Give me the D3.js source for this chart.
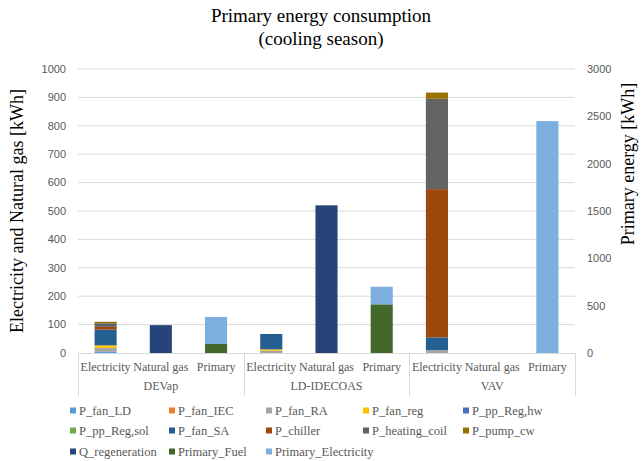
<!DOCTYPE html>
<html>
<head>
<meta charset="utf-8">
<script src="https://cdn.jsdelivr.net/npm/d3@7"></script>
<style>
  body { margin: 0; background: #fff; }
  svg { display: block; }
</style>
</head>
<body>
<svg id="chart" width="643" height="461"></svg>
<script>
// Systems and energy carriers on the two-level category axis
const systems = ["DEVap", "LD-IDECOAS", "VAV"];
const carriers = ["Electricity", "Natural gas", "Primary"];

// Axis ticks
const leftTicks = [0, 100, 200, 300, 400, 500, 600, 700, 800, 900, 1000];
const rightTicks = [0, 500, 1000, 1500, 2000, 2500, 3000];

// Electricity components per system [kWh] (DEVap, LD-IDECOAS, VAV)
const P_fan_LD       = [4, 0, 0];
const P_fan_IEC      = [0, 0, 0];
const P_fan_RA       = [14, 8, 10];
const P_fan_reg      = [9, 5, 0];
const P_pp_Reg_hw    = [0, 0, 0];
const P_pp_Reg_sol   = [0, 0, 0];
const P_fan_SA       = [55, 54, 45];
const P_chiller      = [10, 0, 522];
const P_heating_coil = [13, 0, 318];
const P_pump_cw      = [5, 0, 22];
// Natural gas [kWh]
const Q_regeneration = [98, 520, 0];
// Primary energy [kWh] (right axis)
const Primary_Fuel        = [95, 514, 0];
const Primary_Electricity = [285, 186, 2450];

const series = [
  { name: "P_fan_LD",        values: P_fan_LD,        color: "#5B9BD5", carrier: "Electricity" },
  { name: "P_fan_IEC",       values: P_fan_IEC,       color: "#ED7D31", carrier: "Electricity" },
  { name: "P_fan_RA",        values: P_fan_RA,        color: "#A5A5A5", carrier: "Electricity" },
  { name: "P_fan_reg",       values: P_fan_reg,       color: "#FFC000", carrier: "Electricity" },
  { name: "P_pp_Reg,hw",     values: P_pp_Reg_hw,     color: "#4472C4", carrier: "Electricity" },
  { name: "P_pp_Reg,sol",    values: P_pp_Reg_sol,    color: "#70AD47", carrier: "Electricity" },
  { name: "P_fan_SA",        values: P_fan_SA,        color: "#255E91", carrier: "Electricity" },
  { name: "P_chiller",       values: P_chiller,       color: "#9E480E", carrier: "Electricity" },
  { name: "P_heating_coil",  values: P_heating_coil,  color: "#636363", carrier: "Electricity" },
  { name: "P_pump_cw",       values: P_pump_cw,       color: "#997300", carrier: "Electricity" },
  { name: "Q_regeneration",  values: Q_regeneration,  color: "#264478", carrier: "Natural gas" },
  { name: "Primary_Fuel",    values: Primary_Fuel,    color: "#43682B", carrier: "Primary" },
  { name: "Primary_Electricity", values: Primary_Electricity, color: "#7CAFDD", carrier: "Primary" }
];

const svg = d3.select("#chart");
const plot = { left: 78, right: 575, top: 69, bottom: 353 };
const textGray = "#595959";
const gridGray = "#d9d9d9";

const keys = [];
systems.forEach(s => carriers.forEach(c => keys.push(s + "|" + c)));

const x = d3.scaleBand().domain(keys).range([plot.left, plot.right])
  .paddingInner(0.6).paddingOuter(0.3);
const yL = d3.scaleLinear().domain([0, 1000]).range([plot.bottom, plot.top]);
const yR = d3.scaleLinear().domain([0, 3000]).range([plot.bottom, plot.top]);

// Gridlines
svg.append("g").selectAll("line").data(leftTicks.filter(d => d > 0)).join("line")
  .attr("x1", plot.left).attr("x2", plot.right)
  .attr("y1", d => yL(d)).attr("y2", d => yL(d))
  .attr("stroke", gridGray).attr("stroke-width", 1);

// Stacked bars
const barsG = svg.append("g");
systems.forEach((sys, si) => {
  carriers.forEach(car => {
    const scale = car === "Primary" ? yR : yL;
    let acc = 0;
    series.filter(s => s.carrier === car).forEach(s => {
      const v = s.values[si];
      if (v > 0) {
        barsG.append("rect")
          .attr("x", x(sys + "|" + car))
          .attr("width", x.bandwidth())
          .attr("y", scale(acc + v))
          .attr("height", scale(acc) - scale(acc + v))
          .attr("fill", s.color);
      }
      acc += v;
    });
  });
});

// Category axis baseline and group separators
svg.append("line")
  .attr("x1", plot.left).attr("x2", plot.right)
  .attr("y1", plot.bottom + 0.5).attr("y2", plot.bottom + 0.5)
  .attr("stroke", gridGray);
const groupEdges = [0, 3, 6, 9].map(i => plot.left + (plot.right - plot.left) * i / 9);
svg.append("g").selectAll("line").data(groupEdges).join("line")
  .attr("x1", d => Math.round(d) + 0.5).attr("x2", d => Math.round(d) + 0.5)
  .attr("y1", plot.bottom).attr("y2", 396)
  .attr("stroke", gridGray);

const serif = "'Liberation Serif', 'Times New Roman', serif";
const sans = "'Liberation Sans', Arial, sans-serif";

// Carrier labels
svg.append("g").selectAll("text").data(keys).join("text")
  .attr("x", d => x(d) + x.bandwidth() / 2)
  .attr("y", 371)
  .attr("text-anchor", "middle")
  .attr("font-family", serif).attr("font-size", 12).attr("fill", textGray)
  .text(d => d.split("|")[1]);

// System labels
svg.append("g").selectAll("text").data(systems).join("text")
  .attr("x", (d, i) => (groupEdges[i] + groupEdges[i + 1]) / 2)
  .attr("y", 390)
  .attr("text-anchor", "middle")
  .attr("font-family", serif).attr("font-size", 12).attr("fill", textGray)
  .text(d => d);

// Left axis tick labels
svg.append("g").selectAll("text").data(leftTicks).join("text")
  .attr("x", 66).attr("y", d => yL(d)).attr("dy", "0.35em")
  .attr("text-anchor", "end")
  .attr("font-family", sans).attr("font-size", 11).attr("fill", textGray)
  .text(d => d);

// Right axis tick labels
svg.append("g").selectAll("text").data(rightTicks).join("text")
  .attr("x", 587).attr("y", d => yR(d)).attr("dy", "0.35em")
  .attr("text-anchor", "start")
  .attr("font-family", sans).attr("font-size", 11).attr("fill", textGray)
  .text(d => d);

// Title
const title = svg.append("text")
  .attr("x", 321).attr("text-anchor", "middle")
  .attr("font-family", serif).attr("font-size", 19).attr("fill", "#000");
title.append("tspan").attr("x", 321).attr("y", 22).text("Primary energy consumption");
title.append("tspan").attr("x", 321).attr("y", 45).text("(cooling season)");

// Axis titles
svg.append("text")
  .attr("transform", `translate(23, ${(plot.top + plot.bottom) / 2}) rotate(-90)`)
  .attr("text-anchor", "middle")
  .attr("font-family", serif).attr("font-size", 18).attr("fill", "#000")
  .text("Electricity and Natural gas [kWh]");
svg.append("text")
  .attr("transform", "translate(634, 164) rotate(-90)")
  .attr("text-anchor", "middle")
  .attr("font-family", serif).attr("font-size", 18).attr("fill", "#000")
  .text("Primary energy [kWh]");

// Legend
const legendCols = [70, 169, 266, 363, 463];
const legendRows = [411, 431, 452];
const legend = svg.append("g").selectAll("g").data(series).join("g")
  .attr("transform", (d, i) => `translate(${legendCols[i % 5]}, ${legendRows[Math.floor(i / 5)]})`);
legend.append("rect")
  .attr("x", 0).attr("y", -3.5).attr("width", 6).attr("height", 6)
  .attr("fill", d => d.color);
legend.append("text")
  .attr("x", 9).attr("y", 0).attr("dy", "0.35em")
  .attr("font-family", serif).attr("font-size", 12.5).attr("fill", textGray)
  .text(d => d.name);
</script>
</body>
</html>
